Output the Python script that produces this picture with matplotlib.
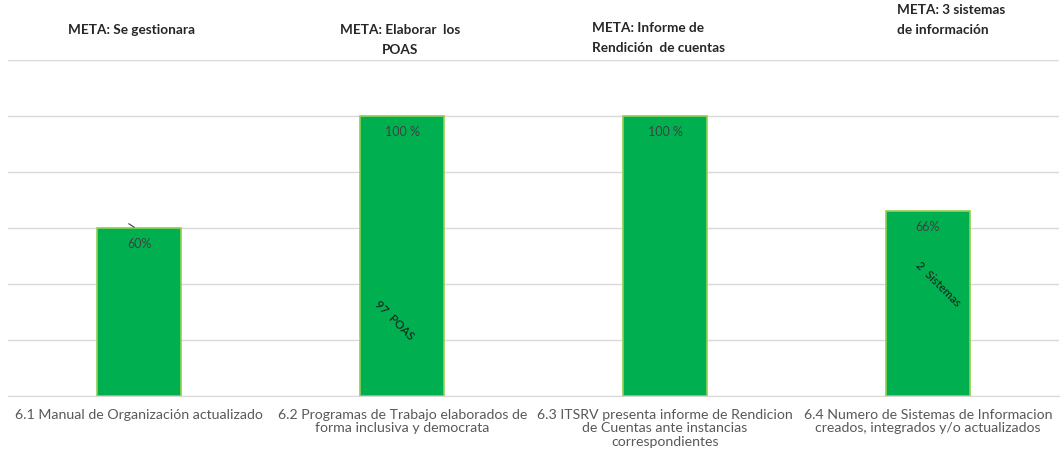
import matplotlib.pyplot as plt

categories = ['6.1 Manual de Organización actualizado',
              '6.2 Programas de Trabajo elaborados de\nforma inclusiva y democrata',
              '6.3 ITSRV presenta informe de Rendicion\nde Cuentas ante instancias\ncorrespondientes',
              '6.4 Numero de Sistemas de Informacion\ncreados, integrados y/o actualizados']
values = [60, 100, 100, 66]
value_labels = ['60%', '100 %', '100 %', '66%']
metas = ['META: Se gestionara', 'META: Elaborar  los\nPOAS',
         'META: Informe de\nRendición  de cuentas', 'META: 3 sistemas\nde información']
extra_labels = ['', '97  POAS', '', '2  Sistemas']

plt.rcParams['font.family'] = ['Lato', 'DejaVu Sans']

fig = plt.figure(figsize=(10.62, 4.62), dpi=100)
ax = fig.add_axes([0.0075, 0.143, 0.99, 0.727])

x = range(len(values))
ax.bar(x, values, width=0.32, color='#00B050', edgecolor='#92D050', linewidth=1.2, zorder=3)
ax.set_ylim(0, 120)
ax.set_xlim(-0.5, 3.5)
ax.set_yticks(range(0, 121, 20))
ax.yaxis.grid(True, color='#D9D9D9', linewidth=1, zorder=0)
ax.tick_params(left=False, labelleft=False, bottom=False, pad=6)
ax.set_xticks(list(x))
ax.set_xticklabels(categories, fontsize=10.2, color='#595959', linespacing=1.12)
for s in ['top', 'left', 'right']:
    ax.spines[s].set_visible(False)
ax.spines['bottom'].set_color('#D9D9D9')

# value labels inside bars
for i, v in enumerate(values):
    ax.text(i, v - 3.5, value_labels[i], ha='center', va='top', fontsize=9, color='#404040', zorder=4)

# rotated notes
ax.text(1 - 0.03, 27, extra_labels[1], ha='center', va='center', rotation=-45, fontsize=8.5, color='#1a1a1a', zorder=4)
ax.text(3 + 0.04, 40, extra_labels[3], ha='center', va='center', rotation=-45, fontsize=8.5, color='#1a1a1a', zorder=4)

# small leader mark on first bar
ax.plot([-0.04, -0.02], [61.5, 60.3], color='#404040', linewidth=0.8, zorder=4)

# META titles above chart
kw = dict(fontsize=9.8, fontweight='bold', color='#262626', linespacing=1.75)
fig.text(131 / 1062, 1 - 30 / 462, metas[0], ha='center', va='center', **kw)
fig.text(400 / 1062, 1 - 40 / 462, metas[1], ha='center', va='center', **kw)
fig.text(592 / 1062, 1 - 38 / 462, metas[2], ha='left', va='center', **kw)
fig.text(897 / 1062, 1 - 20 / 462, metas[3], ha='left', va='center', **kw)

fig.savefig('out.png', dpi=100)
